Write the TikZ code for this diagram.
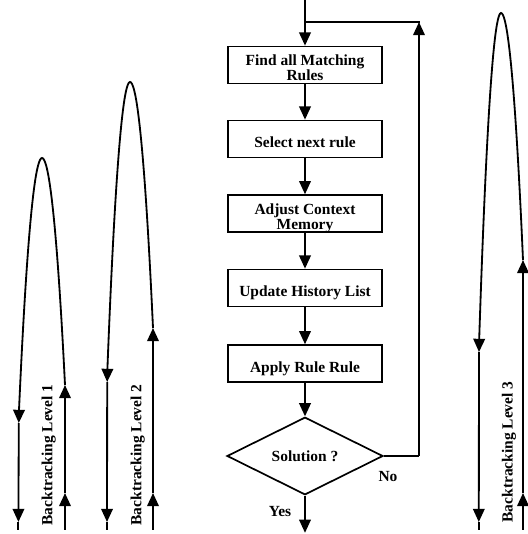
\documentclass[tikz,border=0pt]{standalone}
\usepackage{fontspec}
\setmainfont{Liberation Serif}
\usetikzlibrary{arrows.meta, shapes.geometric}

\begin{document}
\begin{tikzpicture}[
  box/.style={draw, line width=1.2pt, minimum height=0.925cm, minimum width=3.85cm, align=center, font=\bfseries\fontsize{11}{10.7}\selectfont, inner sep=2pt, text height=14pt, text depth=2pt},
  box2/.style={box, text height=22pt, text depth=-4pt},
  decide/.style={draw, diamond, line width=1.2pt, minimum width=3.9cm, minimum height=1.85cm, inner sep=0pt, font=\bfseries\fontsize{11}{13}\selectfont},
  wire/.style={line width=1.3pt},
  arr/.style={-{Triangle[length=3.3mm, width=2.9mm]}, line width=1.3pt},
  lbl/.style={font=\bfseries\fontsize{11}{13}\selectfont}
]
\useasboundingbox (0,0) rectangle (13.2,13.35);

\node[box2] (find)  at (7.625,11.725) {Find all Matching\\Rules};
\node[box] (select) at (7.625,9.875)  {Select next rule};
\node[box2] (adjust) at (7.625,8.01)  {Adjust Context\\Memory};
\node[box] (update) at (7.625,6.15)   {Update History List};
\node[box] (apply)  at (7.625,4.26)   {Apply Rule Rule};
\node[decide] (sol) at (7.625,1.95)   {Solution ?};
\node[lbl] (yes) at (7.0,0.55)  {Yes};
\node[lbl] (no)  at (9.7,1.425) {No};

\coordinate (entry) at (7.625,13.35);
\coordinate (join)  at (7.625,12.8);
\coordinate (back)  at (10.475,12.8);
\coordinate (turn)  at (10.475,1.95);
\coordinate (done)  at (7.625,0.03);

\draw[arr] (entry) -- (find);
\draw[arr] (find) -- (select);
\draw[arr] (select) -- (adjust);
\draw[arr] (adjust) -- (update);
\draw[arr] (update) -- (apply);
\draw[arr] (apply) -- (sol);
\draw[arr] (sol) -- (done);
\draw[wire] (sol.east) -- (turn);
\draw[arr] (turn) -- (back);
\draw[wire, line cap=rect] (back) -- (join);

% backtracking level 1
\coordinate (r1a) at (1.625,0.1);
\coordinate (r1b) at (1.625,1.025);
\coordinate (r1c) at (1.625,3.725);
\coordinate (top1) at (1.05,9.4);
\coordinate (l1a) at (0.475,3.1);
\coordinate (l1b) at (0.47,2.775);
\coordinate (l1c) at (0.46,0.3);
\coordinate (l1d) at (0.46,0.1);
\draw[arr] (r1a) -- (r1b);
\draw[arr] (r1b) -- (r1c);
\draw[wire] (r1c) parabola bend (top1) (l1a);
\draw[arr] (l1a) -- (l1b);
\draw[arr] (l1b) -- (l1c);
\draw[wire] (l1c) -- (l1d);
\node[lbl, rotate=90] (lvl1) at (1.22,1.975) {Backtracking Level 1};

% backtracking level 2
\coordinate (r2a) at (3.825,0.1);
\coordinate (r2b) at (3.825,1.025);
\coordinate (r2c) at (3.825,5.15);
\coordinate (top2) at (3.25,11.3);
\coordinate (l2a) at (2.685,4.125);
\coordinate (l2b) at (2.68,3.8);
\coordinate (l2c) at (2.675,0.3);
\coordinate (l2d) at (2.675,0.1);
\draw[arr] (r2a) -- (r2b);
\draw[arr] (r2b) -- (r2c);
\draw[wire] (r2c) parabola bend (top2) (l2a);
\draw[arr] (l2a) -- (l2b);
\draw[arr] (l2b) -- (l2c);
\draw[wire] (l2c) -- (l2d);
\node[lbl, rotate=90] (lvl2) at (3.44,1.975) {Backtracking Level 2};

% backtracking level 3
\coordinate (r3a) at (13.075,0.1);
\coordinate (r3b) at (13.075,1.025);
\coordinate (r3c) at (13.075,6.85);
\coordinate (top3) at (12.525,13.025);
\coordinate (l3a) at (11.98,4.875);
\coordinate (l3b) at (11.975,4.55);
\coordinate (l3c) at (11.97,0.3);
\coordinate (l3d) at (11.97,0.1);
\draw[arr] (r3a) -- (r3b);
\draw[arr] (r3b) -- (r3c);
\draw[wire] (r3c) parabola bend (top3) (l3a);
\draw[arr] (l3a) -- (l3b);
\draw[arr] (l3b) -- (l3c);
\draw[wire] (l3c) -- (l3d);
\node[lbl, rotate=90] (lvl3) at (12.725,2.05) {Backtracking Level 3};
\end{tikzpicture}
\end{document}
